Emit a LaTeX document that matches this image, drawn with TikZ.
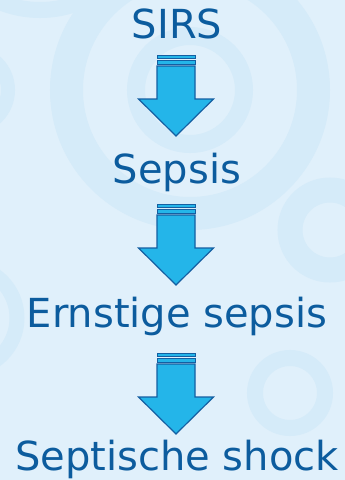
\documentclass[tikz,border=0pt]{standalone}
\usepackage{fontspec}
\setmainfont{DejaVu Sans}
\definecolor{achtergrond}{HTML}{E0F0FB}
\definecolor{ring}{HTML}{D5EBF9}
\definecolor{tekstblauw}{HTML}{0C5C9E}
\definecolor{pijlvul}{HTML}{24B5E9}
\definecolor{pijlrand}{HTML}{145FA2}
\tikzset{
  stap/.style={text=tekstblauw,font=\fontsize{40}{40}\selectfont,anchor=base,inner sep=0pt},
  bgring/.style={draw=ring},
  blokpijl/.pic={
    \draw[fill=pijlvul,draw=pijlrand,line width=1.2pt,line join=miter]
      (-19,11) -- (19,11) -- (19,44) -- (37.5,44) -- (0,81) -- (-37.5,44) -- (-19,44) -- cycle;
    \draw[fill=pijlvul,draw=pijlrand,line width=1pt] (-19,0) rectangle (19,3.5);
    \draw[fill=pijlvul,draw=pijlrand,line width=1pt] (-19,5.5) rectangle (19,9.5);
  }
}
\begin{document}
\begin{tikzpicture}[x=1pt,y=-1pt]
  % achtergrond met ringen
  \fill[achtergrond] (0,0) rectangle (345,480);
  \useasboundingbox (0,0) rectangle (345,480);
  \begin{scope}
    \clip (0,0) rectangle (345,480);
    \draw[bgring,line width=33pt] (190,90) circle (123.5);
    \draw[bgring,line width=18pt] (190,90) circle (54);
    \draw[bgring,line width=25pt] (330,230) circle (40);
    \draw[bgring,line width=16pt] (290,393) circle (35);
    \draw[bgring,line width=14pt] (-30,90) circle (38);
    \draw[bgring,line width=15pt] (-35,318) circle (52);
    \draw[bgring,line width=16pt] (40,-95) circle (105);
  \end{scope}
  % stappen
  \node[stap] (sirs) at (177,38) {SIRS};
  \node[stap] (sepsis) at (177,183) {Sepsis};
  \node[stap] (ernstig) at (177,327) {Ernstige sepsis};
  \node[stap] (shock) at (177,470) {Septische shock};
  % pijlen
  \coordinate (p1) at (176,55);
  \coordinate (p2) at (176,204);
  \coordinate (p3) at (176,353);
  \pic at (p1) {blokpijl};
  \pic at (p2) {blokpijl};
  \pic at (p3) {blokpijl};
\end{tikzpicture}
\end{document}
